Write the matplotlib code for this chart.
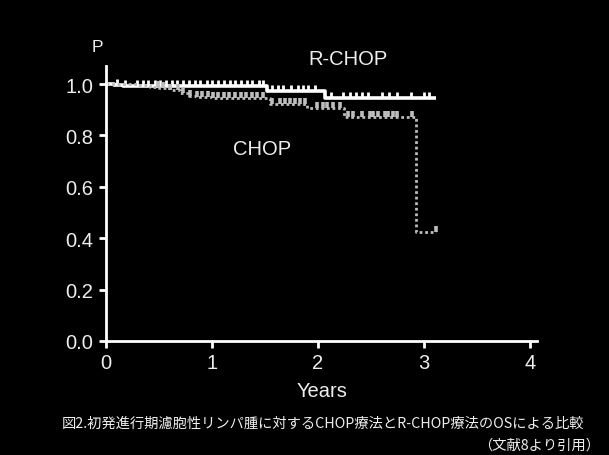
import numpy as np
import matplotlib.pyplot as plt
from matplotlib.path import Path

# datos (curvas de Kaplan-Meier)
rchop_t = [0.0, 0.08, 0.16, 1.52, 2.07, 3.12]
rchop_s = [1.0, 0.997, 0.994, 0.974, 0.945, 0.945]
rchop_cens = [0.10, 0.18, 0.29, 0.35, 0.40, 0.46, 0.51, 0.57, 0.62, 0.67, 0.73,
              0.78, 0.84, 0.89, 0.95, 1.00, 1.06, 1.11, 1.17, 1.22, 1.27,
              1.33, 1.38, 1.44, 1.48,
              1.57, 1.62, 1.67, 1.75, 1.81, 1.86, 1.91, 1.97,
              2.12, 2.24, 2.30, 2.36, 2.42, 2.47, 2.61, 2.67, 2.75, 2.88,
              3.00, 3.05]

chop_t = [0.0, 0.30, 0.42, 0.50, 0.60, 0.70, 0.78, 0.85, 1.00, 1.55, 1.90,
          2.25, 2.93, 3.12]
chop_s = [1.0, 0.995, 0.989, 0.983, 0.976, 0.966, 0.955, 0.948, 0.944,
          0.924, 0.905, 0.872, 0.425, 0.425]
chop_cens = [0.49, 0.54, 0.60, 0.68, 0.73, 0.79, 0.86, 0.91, 0.96, 1.01,
             1.06, 1.11, 1.16, 1.22, 1.27, 1.32, 1.38, 1.43, 1.48,
             1.57, 1.64, 1.69, 1.74, 1.78, 1.83, 1.88,
             1.99, 2.05, 2.09, 2.14, 2.21,
             2.28, 2.33, 2.42, 2.49, 2.52, 2.57, 2.63, 2.66, 2.71, 2.75,
             2.89, 3.12]

xticks = [0, 1, 2, 3, 4]
yticks = [0.0, 0.2, 0.4, 0.6, 0.8, 1.0]

caption1 = '図2.初発進行期濾胞性リンパ腫に対するCHOP療法とR-CHOP療法のOSによる比較'
caption2 = '（文献8より引用）'

plt.rcParams['font.family'] = ['Liberation Sans', 'DejaVu Sans']
fg = '#eeeeee'
gris = '#bdbdbd'


def valor_en(tiempos, t, s):
    idx = np.searchsorted(t, tiempos, side='right') - 1
    return np.array(s)[idx]


# marca de censura: palito vertical hacia arriba
tick_up = Path([(0, 0), (0, 1)], [Path.MOVETO, Path.LINETO])

fig = plt.figure(figsize=(6.09, 4.56), dpi=100, facecolor='black')
ax = fig.add_axes([0.174, 0.25, 0.708, 0.603], facecolor='black')

ax.step(rchop_t, rchop_s, where='post', color='white', lw=2.6,
        solid_capstyle='butt')
ax.plot(rchop_cens, valor_en(rchop_cens, rchop_t, rchop_s), ls='none',
        marker=tick_up, ms=8.5, mew=2, mec='white')

ax.step(chop_t, chop_s, where='post', color=gris, lw=2.0,
        ls=(0, (1, 1)))
ax.plot(chop_cens, valor_en(chop_cens, chop_t, chop_s), ls='none',
        marker=tick_up, ms=8.5, mew=2.6, mec=gris)

ax.set_xlim(0, 4.07)
ax.set_ylim(0, 1.07)
ax.set_xticks(xticks)
ax.set_yticks(yticks)
ax.set_yticklabels(['%.1f' % v for v in yticks])

for lado in ['top', 'right']:
    ax.spines[lado].set_visible(False)
for lado in ['left', 'bottom']:
    ax.spines[lado].set_color('white')
    ax.spines[lado].set_linewidth(2)
ax.tick_params(colors='white', labelcolor=fg, width=2, length=5,
               labelsize=14.5, pad=4)

ax.set_xlabel('Years', color=fg, fontsize=14.5, labelpad=6)
ax.text(-0.08, 1.115, 'P', color=fg, fontsize=12.5, ha='center',
        va='bottom')
ax.text(2.28, 1.1, 'R-CHOP', color=fg, fontsize=14.5, ha='center',
        va='center')
ax.text(1.47, 0.75, 'CHOP', color=fg, fontsize=14.5, ha='center',
        va='center')

fig.text(0.53, 0.07, caption1, color=fg, fontsize=10.3, ha='center',
         va='center', family=['Noto Sans CJK JP', 'DejaVu Sans'])
fig.text(0.985, 0.023, caption2, color=fg, fontsize=10.3, ha='right',
         va='center', family=['Noto Sans CJK JP', 'DejaVu Sans'])

fig.savefig('out.png', dpi=100, facecolor='black')
